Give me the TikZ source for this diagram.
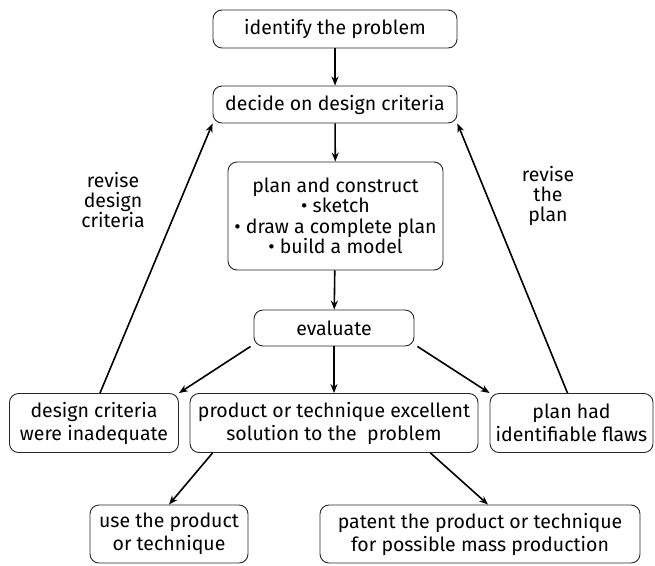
\documentclass[tikz,border=0pt]{standalone}
\usepackage{fontspec}
\setmainfont{Fira Sans}
\usetikzlibrary{arrows.meta,calc}
\begin{document}
\begin{tikzpicture}[x=1pt,y=-1pt,
  box/.style={draw=black!85,line width=0.9pt,rounded corners=9pt,inner sep=0pt,align=center,font=\fontsize{19.5}{23}\selectfont},
  arr/.style={line width=1.6pt,-{Stealth[length=9pt,width=7pt]}},
  lbl/.style={align=center,font=\fontsize{19.5}{20}\selectfont}]
\useasboundingbox (0,0) rectangle (655,565);
\node[box,minimum width=244pt,minimum height=38pt] (id) at (335,29) {identify the problem};
\node[box,minimum width=244pt,minimum height=37pt] (dc) at (335,104.5) {decide on design criteria};
\node[box,minimum width=215pt,minimum height=108pt,font=\fontsize{19.5}{20.5}\selectfont] (pc) at (335.5,216) {plan and construct\\ • sketch\\ • draw a complete plan\\ • build a model};
\node[box,minimum width=160pt,minimum height=36pt] (ev) at (334,328) {evaluate};
\node[box,minimum width=169pt,minimum height=59pt] (di) at (94,423) {design criteria\\were inadequate};
\node[box,minimum width=288pt,minimum height=59pt] (pr) at (334,423) {product or technique excellent\\solution to the \ problem};
\node[box,minimum width=163pt,minimum height=59pt] (ph) at (571.5,423) {plan had\\identifiable flaws};
\node[box,minimum width=158pt,minimum height=58pt] (us) at (169,534) {use the product\\or technique};
\node[box,minimum width=320pt,minimum height=58pt] (pa) at (480,534) {patent the product or technique\\for possible mass production};
\node[lbl] (l1) at (113,200) {revise\\design\\criteria};
\node[lbl] (l2) at (548,196) {revise\\the\\plan};
\draw[arr] (id) -- (dc);
\draw[arr] (dc) -- (pc);
\draw[arr] (pc) -- (ev);
\draw[arr] (ev) -- (pr);
\draw[arr] ($(ev.south west)+(-3,0)$) -- (di.north east);
\draw[arr] ($(ev.south east)+(3,0)$) -- (ph.north west);
\draw[arr] ($(di.north)+(6,0)$) -- (dc.south west);
\draw[arr] ($(ph.north)+(-4,0)$) -- (dc.south east);
\draw[arr] ($(pr.south west)+(23,0)$) -- (us.north);
\draw[arr] ($(pr.south east)+(-48,0)$) -- ($(pa.north)+(8,0)$);
\end{tikzpicture}
\end{document}
